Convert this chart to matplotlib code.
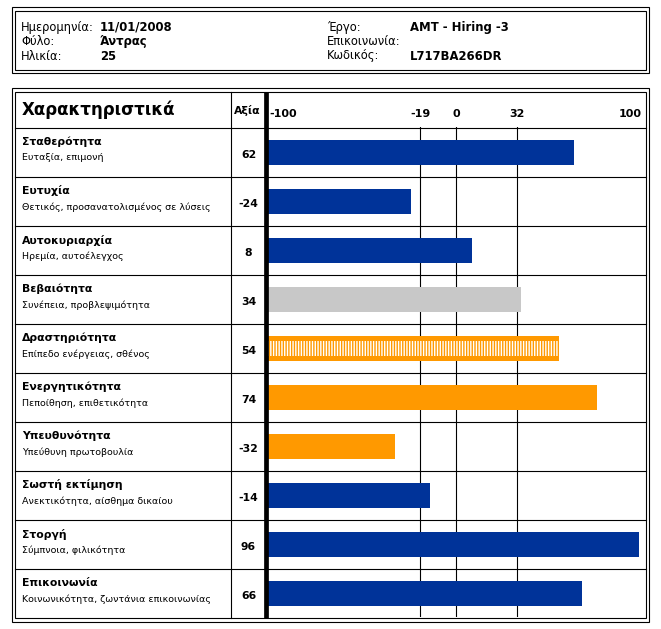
import numpy as np
import matplotlib
matplotlib.use("Agg")
import matplotlib.pyplot as plt
from matplotlib.patches import Rectangle

# ---------------- data ----------------
names = ["Σταθερότητα", "Ευτυχία", "Αυτοκυριαρχία", "Βεβαιότητα", "Δραστηριότητα",
         "Ενεργητικότητα", "Υπευθυνότητα", "Σωστή εκτίμηση", "Στοργή", "Επικοινωνία"]
subtitles = ["Ευταξία, επιμονή", "Θετικός, προσανατολισμένος σε λύσεις",
             "Ηρεμία, αυτοέλεγχος", "Συνέπεια, προβλεψιμότητα",
             "Επίπεδο ενέργειας, σθένος", "Πεποίθηση, επιθετικότητα",
             "Υπεύθυνη πρωτοβουλία", "Ανεκτικότητα, αίσθημα δικαίου",
             "Σύμπνοια, φιλικότητα", "Κοινωνικότητα, ζωντάνια επικοινωνίας"]
values = [62, -24, 8, 34, 54, 74, -32, -14, 96, 66]
bar_colors = ["#003399", "#003399", "#003399", "#C8C8C8", "#FF9900",
              "#FF9900", "#FF9900", "#003399", "#003399", "#003399"]
striped = [False, False, False, False, True, False, False, False, False, False]
ticks = [-100, -19, 0, 32, 100]
tick_labels = ["-100", "-19", "0", "32", "100"]

info_left_labels = ["Ημερομηνία:", "Φύλο:", "Ηλικία:"]
info_left_values = ["11/01/2008", "Άντρας", "25"]
info_right_labels = ["Έργο:", "Επικοινωνία:", "Κωδικός:"]
info_right_values = ["AMT - Hiring -3", "", "L717BA266DR"]

header_title = "Χαρακτηριστικά"
header_value = "Αξία"

# ---------------- layout (pixels) ----------------
W, H = 661, 629
plt.rcParams["font.family"] = ["DejaVu Sans"]
plt.rcParams["hatch.color"] = "white"
plt.rcParams["hatch.linewidth"] = 1.0

fig = plt.figure(figsize=(W / 100, H / 100), dpi=100)
fig.patch.set_facecolor("white")

row_top0 = 127
row_h = 49
n = len(values)
table_bottom = row_top0 + row_h * n   # 617
x_m100 = 266.0
x_p100 = 646.6

# chart axes: x in data units (-100..100), rows as categories
ax = fig.add_axes([x_m100 / W, 1 - table_bottom / H,
                   (x_p100 - x_m100) / W, (table_bottom - row_top0) / H])
ax.set_xlim(-100, 100)
ax.set_ylim(n - 0.5, -0.5)
ax.patch.set_alpha(0)
for s in ax.spines.values():
    s.set_visible(False)
ax.set_xticks(ticks)
ax.set_yticks([])
ax.tick_params(axis="x", length=0, labelbottom=False, labeltop=False)
ax.grid(axis="x", color="black", linewidth=0.8, zorder=1)
ax.set_axisbelow(True)

yy = np.arange(n) + 0.02
vals = np.array(values, dtype=float)
ax.barh(yy, vals + 100, left=-100, height=0.51, color=bar_colors,
        edgecolor="none", zorder=3)
for i in range(n):
    if striped[i]:
        ax.barh(yy[i], vals[i] + 100 - 1.2, left=-100 + 0.4, height=0.29,
                facecolor=bar_colors[i], edgecolor="white", linewidth=0,
                hatch="||||||", zorder=4)

# tick labels in the header row
for k, (t, lab) in enumerate(zip(ticks, tick_labels)):
    if k == 0:
        dx, ha = 3, "left"
    elif k == len(ticks) - 1:
        dx, ha = -5, "right"
    else:
        dx, ha = 0, "center"
    ax.annotate(lab, xy=(t, 1), xycoords=("data", "axes fraction"),
                xytext=(dx * 0.72, 5.5), textcoords="offset points",
                ha=ha, va="bottom", fontsize=8, fontweight="bold")

# overlay for frames and text (pixel coordinates)
ov = fig.add_axes([0, 0, 1, 1])
ov.set_xlim(0, W)
ov.set_ylim(H, 0)
ov.axis("off")
ov.patch.set_alpha(0)

lw = 0.8
def rect(x0, y0, x1, y1):
    ov.add_patch(Rectangle((x0, y0), x1 - x0, y1 - y0, fill=False,
                           edgecolor="black", linewidth=lw))

# top info box
rect(11.5, 7.0, 649.0, 73.0)
rect(14.5, 10.5, 645.5, 69.5)
row_ys = [27, 41.5, 56]
for j in range(3):
    ov.text(21, row_ys[j], info_left_labels[j], fontsize=8.3, va="center", ha="left")
    ov.text(100, row_ys[j], info_left_values[j], fontsize=8.4, fontweight="bold",
            va="center", ha="left")
    ov.text(327, row_ys[j], info_right_labels[j], fontsize=8.3, va="center", ha="left")
    ov.text(410, row_ys[j], info_right_values[j], fontsize=8.4, fontweight="bold",
            va="center", ha="left")

# main table frame
rect(11.5, 88.0, 649.0, 621.5)
rect(14.5, 92.0, 645.5, table_bottom + 0.5)
for k in range(n):
    yline = row_top0 + row_h * k + 0.5
    ov.plot([14.5, 645.5], [yline, yline], color="black", linewidth=lw)
ov.plot([230.5, 230.5], [92.0, table_bottom + 0.5], color="black", linewidth=lw)
ov.plot([266, 266], [92.0, table_bottom + 0.5], color="black", linewidth=3.4,
        solid_capstyle="butt")

# header
ov.text(22, 110, header_title, fontsize=12, fontweight="bold", va="center", ha="left")
ov.text(247, 111, header_value, fontsize=7.8, fontweight="bold", va="center", ha="center")

# row texts
for i in range(n):
    top = row_top0 + row_h * i
    ov.text(22, top + 15, names[i], fontsize=7.8, fontweight="bold",
            va="center", ha="left")
    ov.text(22, top + 31, subtitles[i], fontsize=6.8, va="center", ha="left")
    ov.text(248.5, top + 28, str(values[i]), fontsize=7.8, fontweight="bold",
            va="center", ha="center")

fig.savefig("out.png", dpi=100, facecolor="white")
